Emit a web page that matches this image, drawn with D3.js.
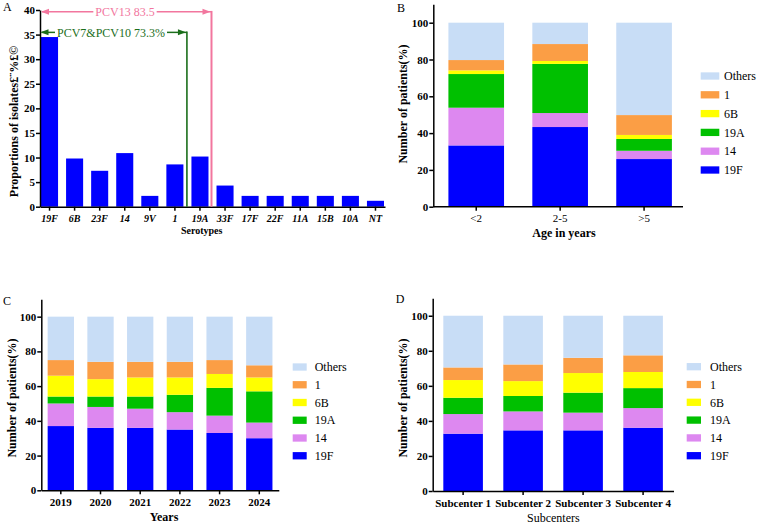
<!DOCTYPE html>
<html><head><meta charset="utf-8">
<script src="https://cdn.jsdelivr.net/npm/d3@7"></script>
<style>body{margin:0;background:#fff} svg{display:block}</style>
</head><body><svg id="c" width="757" height="525"></svg>
<script>
// ---------- DATA ----------
const serotypes = ["19F","6B","23F","14","9V","1","19A","33F","17F","22F","11A","15B","10A","NT"];
const proportions = [34.5,9.8,7.3,10.9,2.2,8.6,10.2,4.3,2.2,2.2,2.2,2.2,2.2,1.2];
const yTicksA = [0,5,10,15,20,25,30,35,40];
const yTicksStack = [0,20,40,60,80,100];

const stackKeys = ["19F","14","19A","6B","1","Others"];
const legendOrder = ["Others","1","6B","19A","14","19F"];

const ageGroups = ["<2","2-5",">5"];
const age19F    = [33.3,43.3,25.9];
const age14     = [20.5,7.6,4.5];
const age19A    = [18.3,26.7,6.4];
const age6B     = [2.0,1.6,2.2];
const age1      = [5.6,9.2,10.8];
const ageOthers = [20.3,11.6,50.2];

const years = ["2019","2020","2021","2022","2023","2024"];
const yr19F    = [37,36,36,35,33,30];
const yr14     = [13,12,11,10,10,9];
const yr19A    = [4,6,7,10,16,18];
const yr6B     = [12,10,11,10,8,8];
const yr1      = [9,10,9,9,8,7];
const yrOthers = [25,26,26,26,25,28];

const subcenters = ["Subcenter 1","Subcenter 2","Subcenter 3","Subcenter 4"];
const sc19F    = [32.7,34.6,34.6,36.1];
const sc14     = [11.2,10.8,10.1,11.2];
const sc19A    = [9.3,8.8,11.4,11.4];
const sc6B     = [10.1,8.5,11.2,9.2];
const sc1      = [7.2,9.5,8.7,9.5];
const scOthers = [29.5,27.8,24.0,22.6];

// ---------- STYLE ----------
const FONT = '"Liberation Serif","Times New Roman",serif';
const colors = {"Others":"#c8ddf6","1":"#fb9e45","6B":"#ffff00","19A":"#00c000","14":"#dd88f0","19F":"#0000ff"};
const PINK = "#f2769e", GREEN = "#1b6e1b";

const svg = d3.select("#c");

function styleAxis(g, size, weight, italic){
  g.selectAll("path.domain").attr("stroke","#000").attr("stroke-width",1.5);
  g.selectAll(".tick line").attr("stroke","#000").attr("stroke-width",1.5);
  g.selectAll(".tick text").attr("fill","#000")
    .style("font-family",FONT).style("font-size",size+"px")
    .style("font-weight",weight).style("font-style",italic?"italic":"normal");
}
function txt(x,y,s,size,weight,anchor,rot,fill){
  const t = svg.append("text").attr("x",x).attr("y",y).text(s)
    .style("font-family",FONT).style("font-size",size+"px")
    .style("font-weight",weight||"normal").attr("text-anchor",anchor||"start")
    .attr("fill",fill||"#000");
  if(rot) t.attr("transform",`rotate(${rot},${x},${y})`);
  return t;
}

// ---------- PANEL A ----------
(function(){
  const x = d3.scaleBand().domain(serotypes).range([40,385]).paddingInner(0.32).paddingOuter(0.04);
  const y = d3.scaleLinear().domain([0,40]).range([206.7,10]);
  svg.append("g").selectAll("rect").data(serotypes).join("rect")
    .attr("x",d=>x(d)).attr("width",x.bandwidth())
    .attr("y",(d,i)=>y(proportions[i])).attr("height",(d,i)=>y(0)-y(proportions[i]))
    .attr("fill","#0000ff");
  const gx = svg.append("g").attr("transform",`translate(0,${y(0)})`)
    .call(d3.axisBottom(x).tickSize(4).tickPadding(4).tickSizeOuter(0));
  styleAxis(gx,10,"bold",true);
  const gy = svg.append("g").attr("transform",`translate(40,0)`)
    .call(d3.axisLeft(y).tickValues(yTicksA).tickSize(4).tickPadding(1).tickSizeOuter(0));
  styleAxis(gy,11,"bold",false);

  txt(3,10.7,"A",12);
  txt(201.7,233.5,"Serotypes",10,"bold","middle");
  txt(18,121.5,"Proportions of isolates£¨%£©",12,"bold","middle",-90);

  function head(tx,ty,dir,col){
    const L=8,W=3;
    svg.append("path").attr("d",`M${tx},${ty}L${tx-dir*L},${ty-W}L${tx-dir*L},${ty+W}Z`).attr("fill",col);
  }
  function bracket(yv, xl, xr, label, tcx, col, vw){
    const yy = y(yv);
    const t = txt(tcx, yy+4.2, label, 12, "normal", "middle", 0, col);
    const bb = t.node().getBBox();
    svg.append("line").attr("x1",xl+2).attr("x2",bb.x-2).attr("y1",yy).attr("y2",yy).attr("stroke",col).attr("stroke-width",1.5);
    svg.append("line").attr("x1",bb.x+bb.width+2).attr("x2",xr).attr("y1",yy).attr("y2",yy).attr("stroke",col).attr("stroke-width",1.5);
    svg.append("line").attr("x1",xr).attr("x2",xr).attr("y1",yy-0.75).attr("y2",y(0)).attr("stroke",col).attr("stroke-width",vw);
    head(xl+1,yy,-1,col);
    head(xr-1,yy,1,col);
  }
  const pinkX = x("19A")+x.bandwidth()+3;
  const greenX = x("1")+x.bandwidth()+3.5;
  bracket(39.66, 40, pinkX, "PCV13 83.5", 125, PINK, 2);
  bracket(35.45, 39.5, greenX, "PCV7&PCV10 73.3%", 111, GREEN, 1.6);
})();

// ---------- STACKED PANELS ----------
function stackedPanel(o){
  const x = d3.scaleBand().domain(o.cats).range([o.x0,o.x1]).paddingInner(o.pi).paddingOuter(o.po);
  const y = d3.scaleLinear().domain([0,110]).range([o.yb,o.yt]);
  const rows = o.cats.map((c,i)=>{const r={cat:c}; stackKeys.forEach(k=>r[k]=o.series[k][i]); return r;});
  const st = d3.stack().keys(stackKeys)(rows);
  svg.append("g").selectAll("g").data(st).join("g").attr("fill",d=>colors[d.key])
    .selectAll("rect").data(d=>d).join("rect")
    .attr("x",d=>x(d.data.cat)).attr("width",x.bandwidth())
    .attr("y",d=>y(d[1])).attr("height",d=>y(d[0])-y(d[1]));
  const gx = svg.append("g").attr("transform",`translate(0,${o.yb})`)
    .call(d3.axisBottom(x).tickSize(4).tickPadding(4).tickSizeOuter(0));
  styleAxis(gx,11,o.xBold?"bold":"normal",false);
  if(o.axisEnd){
    gx.select("path.domain").remove();
    svg.append("line").attr("x1",o.x0).attr("x2",o.axisEnd).attr("y1",o.yb).attr("y2",o.yb).attr("stroke","#000").attr("stroke-width",1.5);
  }
  const gy = svg.append("g").attr("transform",`translate(${o.x0},0)`)
    .call(d3.axisLeft(y).tickValues(yTicksStack).tickSize(4).tickPadding(1).tickSizeOuter(0));
  styleAxis(gy,11,"bold",false);
  // legend
  const lg = svg.append("g");
  legendOrder.forEach((k,i)=>{
    const cy = o.ly0 + i*o.ldy;
    lg.append("rect").attr("x",o.lx).attr("y",cy-3.65).attr("width",o.lw).attr("height",7.3).attr("fill",colors[k]);
    lg.append("text").attr("x",o.ltx).attr("y",cy).attr("dy","0.35em").text(k)
      .style("font-family",FONT).style("font-size","12px").attr("fill","#000");
  });
  txt(o.letterX,o.letterY,o.letter,12);
  txt(o.xtX,o.xtY,o.xTitle,12,o.xtBold?"bold":"normal","middle");
  txt(o.ytX,o.ytY,"Number of patients(%)",12,"bold","middle",-90);
}

stackedPanel({
  cats:ageGroups, series:{"19F":age19F,"14":age14,"19A":age19A,"6B":age6B,"1":age1,"Others":ageOthers},
  x0:433.3, x1:687, axisEnd:683, pi:0.337, po:0.18, yb:206.7, yt:4.3, xBold:false,
  lx:700.7, lw:18.6, ltx:724, ly0:76, ldy:18.8,
  letter:"B", letterX:397, letterY:11.7,
  xTitle:"Age in years", xtX:564, xtY:237, xtBold:true,
  ytX:407, ytY:104
});
stackedPanel({
  cats:years, series:{"19F":yr19F,"14":yr14,"19A":yr19A,"6B":yr6B,"1":yr1,"Others":yrOthers},
  x0:41.3, x1:278.8, pi:0.337, po:0.16, yb:490.3, yt:299.3, xBold:true,
  lx:292.7, lw:14, ltx:314.7, ly0:367, ldy:17.75,
  letter:"C", letterX:3, letterY:305,
  xTitle:"Years", xtX:164, xtY:520.5, xtBold:true,
  ytX:15.7, ytY:398
});
stackedPanel({
  cats:subcenters, series:{"19F":sc19F,"14":sc14,"19A":sc19A,"6B":sc6B,"1":sc1,"Others":scOthers},
  x0:432.7, x1:673.5, pi:0.34, po:0.177, yb:491, yt:298.2, xBold:true,
  lx:686.7, lw:14.3, ltx:710, ly0:366.7, ldy:17.8,
  letter:"D", letterX:395.7, letterY:303.3,
  xTitle:"Subcenters", xtX:553.3, xtY:522, xtBold:false,
  ytX:406.7, ytY:398
});
</script></body></html>
